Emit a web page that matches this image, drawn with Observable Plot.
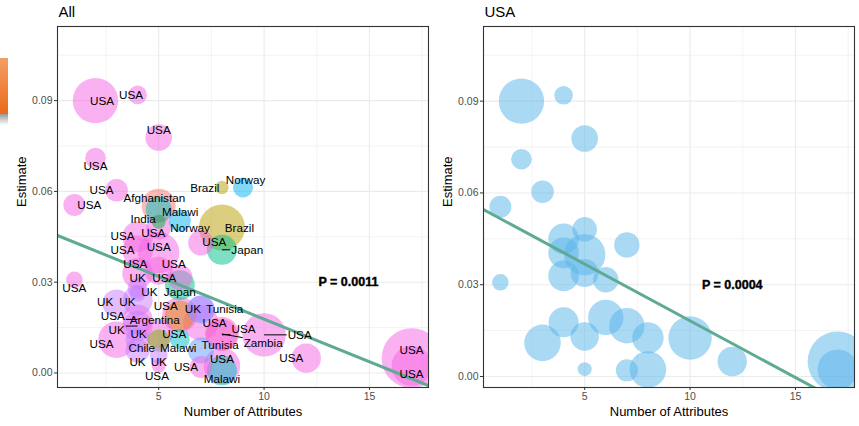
<!DOCTYPE html>
<html><head><meta charset="utf-8">
<script src="https://cdn.jsdelivr.net/npm/d3@7"></script>
<script src="https://cdn.jsdelivr.net/npm/@observablehq/plot@0.6"></script>
<style>
body{margin:0;background:#fff;font-family:"Liberation Sans",Arial,sans-serif}
#wrap{position:relative;width:859px;height:426px;display:flex;overflow:hidden}
#tab{position:absolute;left:0;top:58px;width:8px;height:56px;background:linear-gradient(#F59E66,#E96A1B)}
#tabshadow{position:absolute;left:0;top:114px;width:8px;height:11px;background:linear-gradient(rgba(110,110,110,0.7),rgba(220,220,220,0))}
</style></head><body>
<div id="wrap"><div id="left"></div><div id="right"></div><div id="tab"></div><div id="tabshadow"></div></div>
<script>
// ---- data ----
const usaAttributes = [2,4,5,2,3,1,5,4,7,4,5,1,4,5,6,6,7,4,8,3,5,10,12,17,17,8,7,5];
const usaEstimates  = [0.0900,0.0919,0.0778,0.0710,0.0604,0.0555,0.0481,0.0450,0.0430,0.0404,0.0398,0.0308,0.0329,0.0338,0.0316,0.0193,0.0166,0.0177,0.0126,0.0110,0.0131,0.0126,0.0049,0.0049,0.0023,0.0023,0.0020,0.0024];
const usaSampleSize = [515,86,177,106,128,121,151,234,161,234,428,69,234,196,161,313,313,225,246,335,204,471,216,900,400,335,121,49];

const otherCountries  = ["Afghanistan","Malawi","Brazil","Norway","Norway","Brazil","Japan","Japan","India","Argentina","Tunisia","Tunisia","Zambia","Chile","Malawi","Malawi","UK","UK","UK","UK","UK","UK","UK","UK","UK"];
const otherAttributes = [5,5,8,9,6,8,8,6,5,6,7,7,8,5,8,6,4,3,4,4,4,4,4,7,5];
const otherEstimates  = [0.0553,0.0540,0.0613,0.0613,0.0503,0.0481,0.0407,0.0290,0.0500,0.0189,0.0210,0.0074,0.0129,0.0107,0.0008,0.0112,0.0280,0.0230,0.0240,0.0262,0.0155,0.0110,0.0074,0.0212,0.0060];
const otherSampleSize = [289,169,45,100,121,529,225,225,49,225,196,169,289,121,225,100,100,196,225,64,225,144,144,169,81];

const countries = ["Afghanistan","Argentina","Brazil","Chile","India","Japan","Malawi","Norway","Tunisia","UK","USA","Zambia"];
const countryColors = ["#F8766D","#DE8C00","#B79F00","#7CAE00","#00BA38","#00C08B","#00BFC4","#00B4F0","#619CFF","#C77CFF","#F564E3","#FF64B0"];

const xTicks = [5,10,15], xMinor = [2.5,7.5,12.5,17.5];
const yTicks = [0,0.03,0.06,0.09], yMinor = [0.015,0.045,0.075,0.105];

const fitAll = {intercept:0.0460, slope:-0.00282, p:"P = 0.0011", px:14, py:0.03};
const fitUSA = {intercept:0.0553, slope:-0.00371, p:"P = 0.0004", px:12, py:0.03};

// ---- tables ----
const usa = usaAttributes.map((x,i)=>({country:"USA", attributes:x, estimate:usaEstimates[i], n:usaSampleSize[i]}));
const others = otherCountries.map((c,i)=>({country:c, attributes:otherAttributes[i], estimate:otherEstimates[i], n:otherSampleSize[i]}));
const all = usa.concat(others);

const FONT = "Liberation Sans, Arial, Helvetica, sans-serif";
const H = 426, MT = 26, MB = 39;
const xDomain = [0.2, 17.8];

const canvas = document.createElement("canvas");
const ctx = canvas.getContext("2d");
ctx.font = "11.7px 'Liberation Sans', Arial";
const measure = s => ctx.measureText(s).width;

// simple ggrepel-like label placement (layout only)
function repelLabels(data, xs, ys, bounds) {
  const nodes = data.map((d,i)=>{
    const px = xs(d.attributes), py = ys(d.estimate);
    const a = i*2.399963;
    return {label:d.country, px, py, w:measure(d.country)+2, h:11, x:px+4*Math.cos(a), y:py+4*Math.sin(a)};
  });
  const N = nodes.length, PAD = 3, PP = 3;
  const clamp = a => {
    a.x = Math.max(bounds.x0+a.w/2+1, Math.min(bounds.x1-a.w/2-1, a.x));
    a.y = Math.max(bounds.y0+a.h/2+1, Math.min(bounds.y1-a.h/2-1, a.y));
  };
  const separate = () => {
    for (let i=0;i<N;i++) {
      const a = nodes[i];
      for (let j=i+1;j<N;j++) {
        const b = nodes[j];
        const dx=b.x-a.x, dy=b.y-a.y;
        const ox=(a.w+b.w)/2+PAD-Math.abs(dx), oy=(a.h+b.h)/2+PAD-Math.abs(dy);
        if (ox>0 && oy>0) {
          if (ox/(a.w+b.w) < oy/(a.h+b.h)) { const s=(dx>=0?1:-1)*ox*0.5; a.x-=s; b.x+=s; }
          else { const s=(dy>=0?1:-1)*oy*0.5; a.y-=s; b.y+=s; }
        }
      }
    }
    nodes.forEach(clamp);
  };
  for (let it=0; it<600; it++) {
    for (const a of nodes) {
      let fx = (a.px-a.x)*0.02, fy = (a.py-a.y)*0.02;
      for (const p of nodes) {
        const dx=a.x-p.px, dy=a.y-p.py;
        const ox=a.w/2+PP-Math.abs(dx), oy=a.h/2+PP-Math.abs(dy);
        if (ox>0 && oy>0) {
          if (ox/a.w < oy/a.h) fx+=(dx>=0?1:-1)*ox*0.3; else fy+=(dy>=0?1:-1)*oy*0.3;
        }
      }
      a.x += fx; a.y += fy;
    }
    nodes.forEach(clamp);
    for (let k=0;k<3;k++) separate();
  }
  for (let k=0;k<60;k++) separate();
  const labels = [], segs = [];
  for (const a of nodes) {
    labels.push({label:a.label, x:xs.invert(a.x), y:ys.invert(a.y+0.5)});
    const cx = Math.max(a.x-a.w/2, Math.min(a.x+a.w/2, a.px));
    const cy = Math.max(a.y-a.h/2, Math.min(a.y+a.h/2, a.py));
    if (Math.hypot(cx-a.px, cy-a.py) > 6) segs.push({x1:xs.invert(a.px), y1:ys.invert(a.py), x2:xs.invert(cx), y2:ys.invert(cy)});
  }
  return {labels, segs};
}

function panel({width, marginLeft, marginRight, yDomain, data, fillCountry, title, fit, withLabels}) {
  const xs = d3.scaleLinear(xDomain, [marginLeft, width-marginRight]);
  const ys = d3.scaleLinear(yDomain, [H-MB, MT]);
  const fitLine = xDomain.map(x=>({x, y:fit.intercept+fit.slope*x}));
  const marks = [
    Plot.gridX(xMinor, {stroke:"#EBEBEB", strokeOpacity:1, strokeWidth:0.6}),
    Plot.gridY(yMinor, {stroke:"#EBEBEB", strokeOpacity:1, strokeWidth:0.6}),
    Plot.gridX(xTicks, {stroke:"#EBEBEB", strokeOpacity:1, strokeWidth:1.1}),
    Plot.gridY(yTicks, {stroke:"#EBEBEB", strokeOpacity:1, strokeWidth:1.1}),
    Plot.dot(data, {x:"attributes", y:"estimate", r:"n", fill: fillCountry ? "country" : "#56B4E9", fillOpacity:0.5, stroke:null, clip:true}),
    Plot.line(fitLine, {x:"x", y:"y", stroke:"#5FAA95", strokeWidth:3, clip:true}),
    Plot.text([fit], {x:"px", y:"py", text:"p", fontSize:12.5, fontWeight:"bold", fill:"black", stroke:"black", strokeWidth:0.4})
  ];
  if (withLabels) {
    const {labels, segs} = repelLabels(data, xs, ys, {x0:marginLeft, x1:width-marginRight, y0:MT, y1:H-MB});
    marks.push(Plot.link(segs, {x1:"x1", y1:"y1", x2:"x2", y2:"y2", stroke:"black", strokeWidth:1}));
    marks.push(Plot.text(labels, {x:"x", y:"y", text:"label", fontSize:11.7, fill:"black", lineAnchor:"middle"}));
  }
  marks.push(
    Plot.frame({stroke:"#333333", strokeWidth:1.1}),
    Plot.axisX(xTicks, {tickSize:3, tickPadding:2, fontSize:10.5, color:"#4D4D4D", stroke:"#333333", label:null}),
    Plot.axisY(yTicks, {tickSize:3, tickPadding:2, fontSize:10.5, color:"#4D4D4D", stroke:"#333333", tickFormat:d3.format(".2f"), label:null}),
    Plot.text([title], {frameAnchor:"top-left", dx:1, dy:-10, fontSize:15, textAnchor:"start", lineAnchor:"bottom", fill:"black"}),
    Plot.text(["Number of Attributes"], {frameAnchor:"bottom", dy:28, fontSize:13, lineAnchor:"bottom", fill:"black"}),
    Plot.text(["Estimate"], {frameAnchor:"left", dx:-31.5, rotate:-90, fontSize:13, lineAnchor:"bottom", fill:"black"})
  );
  return Plot.plot({
    width, height:H, marginTop:MT, marginBottom:MB, marginLeft, marginRight,
    x:{domain:xDomain}, y:{domain:yDomain},
    r:{domain:[0,900], range:[0,30]},
    color:{domain:countries, range:countryColors},
    style:{fontFamily:FONT, fontSize:"10.5px", background:"white", overflow:"visible"},
    marks
  });
}

document.getElementById("left").append(panel({
  width:430, marginLeft:57, marginRight:2, yDomain:[-0.0048,0.1145],
  data:all, fillCountry:true, title:"All", fit:fitAll, withLabels:true
}));
document.getElementById("right").append(panel({
  width:429, marginLeft:53, marginRight:5, yDomain:[-0.0036,0.1144],
  data:usa, fillCountry:false, title:"USA", fit:fitUSA, withLabels:false
}));
</script>
</body></html>
